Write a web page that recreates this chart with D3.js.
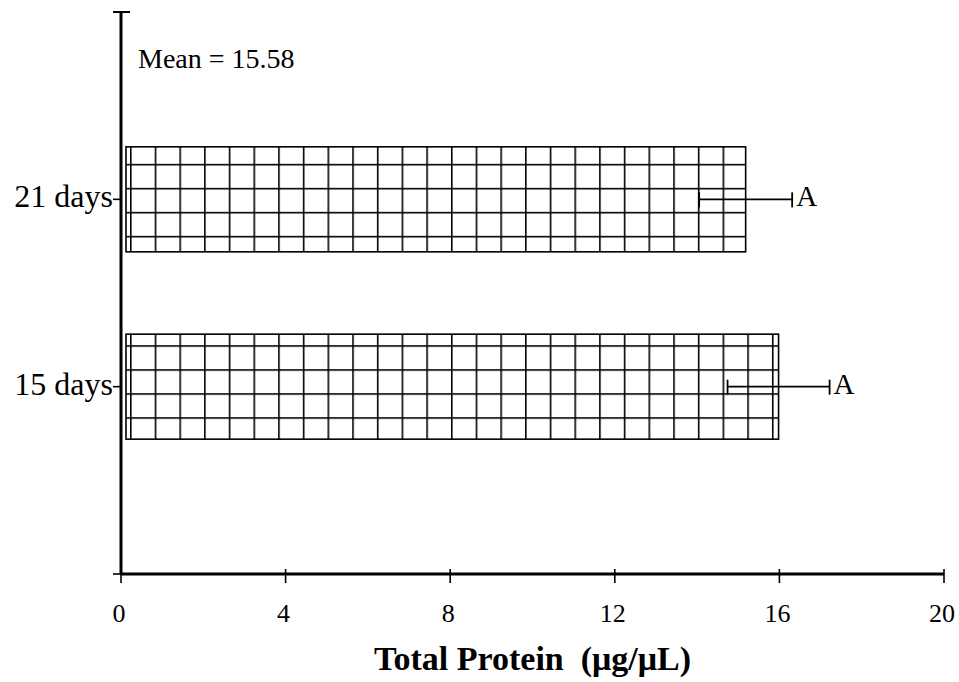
<!DOCTYPE html>
<html lang="en">
<head>
    <meta charset="UTF-8">
    <title>Total Protein</title>
    <style>
        body { margin: 0; background: #fff; }
        svg { display: block; }
        text { font-family: "Liberation Serif", "Times New Roman", serif; fill: #000; }
    </style>
</head>
<body>
<svg id="chart" width="959" height="682"></svg>

<script src="https://d3js.org/d3.v7.min.js"></script>
<script>
    // Chart data
    const categories = ["21 days", "15 days"];
    const means = [15.18, 15.98];
    const errors = [1.13, 1.24];
    const letters = ["A", "A"];
    const xTicks = [0, 4, 8, 12, 16, 20];
    const meanNote = "Mean = 15.58";
    const xTitle = "Total Protein  (\u03bcg/\u03bcL)";

    const svg = d3.select("#chart");

    // x: value scale, y: slot scale (empty slot top and bottom)
    const x = d3.scaleLinear().domain([0, 20]).range([121, 944]);
    const y = d3.scaleLinear().domain([0, 3]).range([12, 574]);
    const slot = i => y(i + 1);

    const barH = 105;
    const hatchW = x(0.6) - x(0);   // grid cell width
    const hatchH = 24;
    const hatchPhase = [17, 11];    // first horizontal line below bar top

    const defs = svg.append("defs");

    // Crosshatch patterns, one per bar
    categories.forEach((c, i) => {
        const top = slot(i) - barH / 2;
        const p = defs.append("pattern")
            .attr("id", "grid" + i)
            .attr("patternUnits", "userSpaceOnUse")
            .attr("x", x(0) + 9)
            .attr("y", top + hatchPhase[i])
            .attr("width", hatchW)
            .attr("height", hatchH);
        p.append("rect").attr("width", hatchW).attr("height", hatchH).attr("fill", "#fff");
        p.append("line").attr("x1", 0).attr("x2", hatchW).attr("y1", 0.8).attr("y2", 0.8)
            .attr("stroke", "#000").attr("stroke-width", 1.6);
        p.append("line").attr("x1", 0.8).attr("x2", 0.8).attr("y1", 0).attr("y2", hatchH)
            .attr("stroke", "#000").attr("stroke-width", 1.6);
    });

    // Bars
    svg.selectAll(".bar")
        .data(means)
        .enter().append("rect")
        .attr("class", "bar")
        .attr("x", x(0) + 5)
        .attr("y", (d, i) => slot(i) - barH / 2)
        .attr("width", d => x(d) - x(0) - 5)
        .attr("height", barH)
        .attr("fill", (d, i) => `url(#grid${i})`)
        .attr("stroke", "#000")
        .attr("stroke-width", 1.6);

    // Error bars
    const err = svg.selectAll(".err")
        .data(means)
        .enter().append("g")
        .attr("class", "err")
        .attr("transform", (d, i) => `translate(0,${slot(i)})`);

    err.append("line")
        .attr("x1", (d, i) => x(d - errors[i]))
        .attr("x2", (d, i) => x(d + errors[i]))
        .attr("stroke", "#000").attr("stroke-width", 1.6);
    err.append("line")
        .attr("x1", (d, i) => x(d - errors[i])).attr("x2", (d, i) => x(d - errors[i]))
        .attr("y1", -7).attr("y2", 8)
        .attr("stroke", "#000").attr("stroke-width", 1.8);
    err.append("line")
        .attr("x1", (d, i) => x(d + errors[i])).attr("x2", (d, i) => x(d + errors[i]))
        .attr("y1", -7).attr("y2", 8)
        .attr("stroke", "#000").attr("stroke-width", 1.8);
    err.append("text")
        .attr("x", (d, i) => x(d + errors[i]) + 4)
        .attr("y", 7)
        .style("font-size", "29px")
        .text((d, i) => letters[i]);

    // Y axis
    svg.append("line")
        .attr("x1", x(0)).attr("x2", x(0))
        .attr("y1", y(0)).attr("y2", y(3))
        .attr("stroke", "#000").attr("stroke-width", 3);
    svg.append("line")
        .attr("x1", x(0) - 8).attr("x2", x(0) + 9)
        .attr("y1", y(0)).attr("y2", y(0))
        .attr("stroke", "#000").attr("stroke-width", 2);
    svg.selectAll(".ytick")
        .data([1, 2, 3])
        .enter().append("line")
        .attr("class", "ytick")
        .attr("x1", x(0) - 8).attr("x2", x(0))
        .attr("y1", d => y(d)).attr("y2", d => y(d))
        .attr("stroke", "#000").attr("stroke-width", 1.6);
    svg.selectAll(".ylab")
        .data(categories)
        .enter().append("text")
        .attr("class", "ylab")
        .attr("x", x(0) - 8)
        .attr("y", (d, i) => slot(i) + 8)
        .attr("text-anchor", "end")
        .style("font-size", "32px")
        .text(d => d);

    // X axis
    svg.append("line")
        .attr("x1", x(0)).attr("x2", x(20))
        .attr("y1", y(3)).attr("y2", y(3))
        .attr("stroke", "#000").attr("stroke-width", 3);
    svg.selectAll(".xtick")
        .data(xTicks)
        .enter().append("line")
        .attr("class", "xtick")
        .attr("x1", d => x(d)).attr("x2", d => x(d))
        .attr("y1", y(3) - 5).attr("y2", y(3) + 9)
        .attr("stroke", "#000").attr("stroke-width", 1.6);
    svg.selectAll(".xlab")
        .data(xTicks)
        .enter().append("text")
        .attr("class", "xlab")
        .attr("x", d => x(d) - 2)
        .attr("y", 622)
        .attr("text-anchor", "middle")
        .style("font-size", "26px")
        .text(d => d);

    svg.append("text")
        .attr("x", (x(0) + x(20)) / 2)
        .attr("y", 670)
        .attr("text-anchor", "middle")
        .style("font-size", "34px")
        .style("font-weight", "bold")
        .style("white-space", "pre")
        .text(xTitle);

    // Mean note
    svg.append("text")
        .attr("x", 138)
        .attr("y", 68)
        .style("font-size", "28px")
        .text(meanNote);
</script>
</body>
</html>
